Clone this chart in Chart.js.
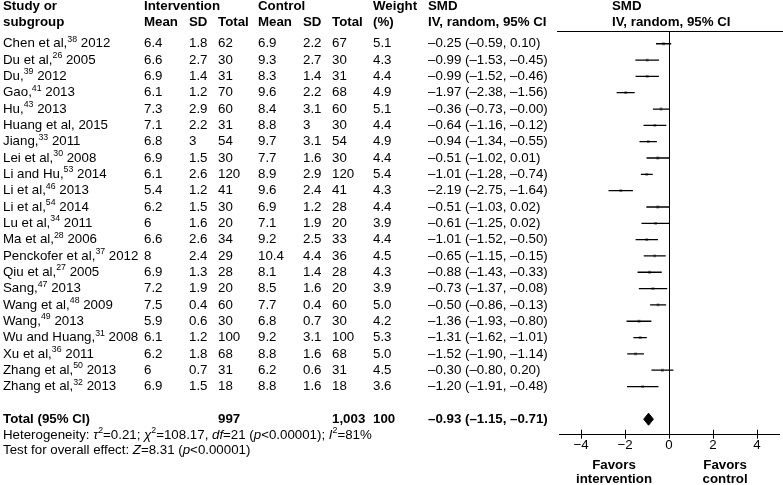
<!DOCTYPE html>
<html>
<head>
<meta charset="utf-8">
<script src="https://cdn.jsdelivr.net/npm/chart.js@4.4.1/dist/chart.umd.min.js"></script>
<style>
html, body { margin: 0; padding: 0; background: #fff; }
</style>
</head>
<body>
<canvas id="forest" width="783" height="485"></canvas>
<script>
// study rows
const studies = ['Chen et al,', 'Du et al,', 'Du,', 'Gao,', 'Hu,', 'Huang et al,', 'Jiang,', 'Lei et al,', 'Li and Hu,', 'Li et al,', 'Li et al,', 'Lu et al,', 'Ma et al,', 'Penckofer et al,', 'Qiu et al,', 'Sang,', 'Wang et al,', 'Wang,', 'Wu and Huang,', 'Xu et al,', 'Zhang et al,', 'Zhang et al,']
const refs = ['38', '26', '39', '41', '43', '', '33', '30', '53', '46', '54', '34', '28', '37', '27', '47', '48', '49', '31', '36', '50', '32']
const years = [2012, 2005, 2012, 2013, 2013, 2015, 2011, 2008, 2014, 2013, 2014, 2011, 2006, 2012, 2005, 2013, 2009, 2013, 2008, 2011, 2013, 2013]

const intMean = [6.4, 6.6, 6.9, 6.1, 7.3, 7.1, 6.8, 6.9, 6.1, 5.4, 6.2, 6, 6.6, 8, 6.9, 7.2, 7.5, 5.9, 6.1, 6.2, 6, 6.9]
const intSD = [1.8, 2.7, 1.4, 1.2, 2.9, 2.2, 3, 1.5, 2.6, 1.2, 1.5, 1.6, 2.6, 2.4, 1.3, 1.9, 0.4, 0.6, 1.2, 1.8, 0.7, 1.5]
const intN = [62, 30, 31, 70, 60, 31, 54, 30, 120, 41, 30, 20, 34, 29, 28, 20, 60, 30, 100, 68, 31, 18]
const ctlMean = [6.9, 9.3, 8.3, 9.6, 8.4, 8.8, 9.7, 7.7, 8.9, 9.6, 6.9, 7.1, 9.2, 10.4, 8.1, 8.5, 7.7, 6.8, 9.2, 8.8, 6.2, 8.8]
const ctlSD = [2.2, 2.7, 1.4, 2.2, 3.1, 3, 3.1, 1.6, 2.9, 2.4, 1.2, 1.9, 2.5, 4.4, 1.4, 1.6, 0.4, 0.7, 3.1, 1.6, 0.6, 1.6]
const ctlN = [67, 30, 31, 68, 60, 30, 54, 30, 120, 41, 28, 20, 33, 36, 28, 20, 60, 30, 100, 68, 31, 18]
const weights = [5.1, 4.3, 4.4, 4.9, 5.1, 4.4, 4.9, 4.4, 5.4, 4.3, 4.4, 3.9, 4.4, 4.5, 4.3, 3.9, 5.0, 4.2, 5.3, 5.0, 4.5, 3.6]
const smd = [-0.25, -0.99, -0.99, -1.97, -0.36, -0.64, -0.94, -0.51, -1.01, -2.19, -0.51, -0.61, -1.01, -0.65, -0.88, -0.73, -0.50, -1.36, -1.31, -1.52, -0.30, -1.20]
const ciLow = [-0.59, -1.53, -1.52, -2.38, -0.73, -1.16, -1.34, -1.02, -1.28, -2.75, -1.03, -1.25, -1.52, -1.15, -1.43, -1.37, -0.86, -1.93, -1.62, -1.90, -0.80, -1.91]
const ciHigh = [0.10, -0.45, -0.46, -1.56, -0.00, -0.12, -0.55, 0.01, -0.74, -1.64, 0.02, 0.02, -0.50, -0.15, -0.33, -0.08, -0.13, -0.80, -1.01, -1.14, 0.20, -0.48]

// pooled result
const totalInt = '997'
const totalCtl = '1,003'
const totalWeight = '100'
const totalSMD = -0.93
const totalLow = -1.15
const totalHigh = -0.71

const xTicks = [-4, -2, 0, 2, 4]

const FONT = '"Liberation Sans", Arial, sans-serif'
const FS = 13.3
const TOTAL_ROW = 23

function fmt(v) {
  const neg = v < 0 || Object.is(v, -0)
  return (neg ? '\u2013' : '') + Math.abs(v).toFixed(2)
}
function ciText(e, l, h) {
  return fmt(e) + ' (' + fmt(l) + ', ' + fmt(h) + ')'
}

const ciLines = []
studies.forEach((s, i) => {
  ciLines.push({ x: ciLow[i], y: i }, { x: ciHigh[i], y: i }, { x: NaN, y: null })
})
const pointData = smd.map((v, i) => ({ x: v, y: i }))
const diamond = [
  { x: totalLow, y: TOTAL_ROW },
  { x: totalSMD, y: TOTAL_ROW - 0.37 },
  { x: totalHigh, y: TOTAL_ROW },
  { x: totalSMD, y: TOTAL_ROW + 0.37 },
  { x: totalLow, y: TOTAL_ROW }
]

// draws a run of text pieces: {t, i (italic), b (bold), s (superscript)}
function rich(ctx, x, y, parts, size) {
  parts.forEach(p => {
    const sz = p.s ? size * 0.66 : size
    ctx.font = (p.i ? 'italic ' : '') + (p.b ? 'bold ' : '') + sz + 'px ' + FONT
    ctx.fillText(p.t, x, p.s ? y - size * 0.33 : y)
    x += ctx.measureText(p.t).width
  })
}

const tablePlugin = {
  id: 'table',
  afterDraw(chart) {
    const ctx = chart.ctx
    const xs = chart.scales.x
    const ys = chart.scales.y
    const area = chart.chartArea
    const row = i => ys.getPixelForValue(i)
    const col = { study: 3, im: 144, isd: 189, inn: 218, cm: 258, csd: 303, cn: 332, w: 373, smd: 428, plot: 612 }
    ctx.save()
    ctx.fillStyle = '#000'
    ctx.textBaseline = 'middle'
    ctx.textAlign = 'left'

    // headers
    const h1 = row(-2.3), h2 = row(-1.32)
    ctx.font = 'bold ' + FS + 'px ' + FONT
    ctx.fillText('Study or', col.study, h1)
    ctx.fillText('subgroup', col.study, h2)
    ctx.fillText('Intervention', col.im, h1)
    ctx.fillText('Control', col.cm, h1)
    ctx.fillText('Weight', col.w, h1)
    ctx.fillText('SMD', col.smd, h1)
    ctx.fillText('SMD', col.plot, h1)
    ctx.fillText('Mean', col.im, h2)
    ctx.fillText('SD', col.isd, h2)
    ctx.fillText('Total', col.inn, h2)
    ctx.fillText('Mean', col.cm, h2)
    ctx.fillText('SD', col.csd, h2)
    ctx.fillText('Total', col.cn, h2)
    ctx.fillText('(%)', col.w, h2)
    ctx.fillText('IV, random, 95% CI', col.smd, h2)
    ctx.fillText('IV, random, 95% CI', col.plot, h2)

    // study rows
    studies.forEach((s, i) => {
      const y = row(i)
      const parts = [{ t: s }]
      if (refs[i]) parts.push({ t: refs[i], s: true })
      parts.push({ t: ' ' + years[i] })
      rich(ctx, col.study, y, parts, FS)
      ctx.font = FS + 'px ' + FONT
      ctx.fillText(String(intMean[i]), col.im, y)
      ctx.fillText(String(intSD[i]), col.isd, y)
      ctx.fillText(String(intN[i]), col.inn, y)
      ctx.fillText(String(ctlMean[i]), col.cm, y)
      ctx.fillText(String(ctlSD[i]), col.csd, y)
      ctx.fillText(String(ctlN[i]), col.cn, y)
      ctx.fillText(weights[i].toFixed(1), col.w, y)
      ctx.fillText(ciText(smd[i], ciLow[i], ciHigh[i]), col.smd, y)
    })

    // total row
    const ty = row(TOTAL_ROW)
    ctx.font = 'bold ' + FS + 'px ' + FONT
    ctx.fillText('Total (95% CI)', col.study, ty)
    ctx.fillText(totalInt, col.inn, ty)
    ctx.fillText(totalCtl, col.cn, ty)
    ctx.fillText(totalWeight, col.w, ty)
    ctx.fillText(ciText(totalSMD, totalLow, totalHigh), col.smd, ty)

    rich(ctx, col.study, row(TOTAL_ROW + 0.97), [
      { t: 'Heterogeneity: ' }, { t: '\u03c4', i: true }, { t: '2', s: true }, { t: '=0.21; ' },
      { t: '\u03c7', i: true }, { t: '2', s: true }, { t: '=108.17, ' }, { t: 'df', i: true },
      { t: '=21 (' }, { t: 'p', i: true }, { t: '<0.00001); ' }, { t: 'I', i: true },
      { t: '2', s: true }, { t: '=81%' }
    ], FS)
    rich(ctx, col.study, row(TOTAL_ROW + 1.92), [
      { t: 'Test for overall effect: ' }, { t: 'Z', i: true }, { t: '=8.31 (' },
      { t: 'p', i: true }, { t: '<0.00001)' }
    ], FS)

    // header rule and zero line
    ctx.strokeStyle = '#000'
    ctx.lineWidth = 1
    ctx.beginPath()
    ctx.moveTo(area.left - 2, area.top + 0.5)
    ctx.lineTo(chart.width, area.top + 0.5)
    const zx = Math.round(xs.getPixelForValue(0)) + 0.5
    ctx.moveTo(zx, area.top)
    ctx.lineTo(zx, area.bottom)
    // tick marks above the axis
    xTicks.forEach(v => {
      const tx = Math.round(xs.getPixelForValue(v)) + 0.5
      ctx.moveTo(tx, area.bottom - 5)
      ctx.lineTo(tx, area.bottom)
    })
    ctx.stroke()

    // favours labels
    ctx.textAlign = 'center'
    ctx.font = 'bold ' + FS + 'px ' + FONT
    const fl = xs.getPixelForValue(-2.5), fr = xs.getPixelForValue(2.55)
    ctx.fillText('Favors', fl, 465)
    ctx.fillText('intervention', fl, 479)
    ctx.fillText('Favors', fr, 465)
    ctx.fillText('control', fr, 479)
    ctx.restore()
  }
}

const chart = new Chart(document.getElementById('forest'), {
  type: 'scatter',
  data: {
    datasets: [
      {
        label: 'CI',
        data: ciLines,
        showLine: true,
        spanGaps: false,
        borderColor: '#000',
        borderWidth: 1.3,
        pointRadius: 0,
        order: 0
      },
      {
        label: 'SMD',
        data: pointData,
        pointStyle: 'rect',
        pointRadius: 2,
        backgroundColor: '#8a8a8a',
        borderColor: '#8a8a8a',
        borderWidth: 0,
        order: 1
      },
      {
        type: 'line',
        label: 'Total',
        data: diamond,
        borderColor: '#000',
        backgroundColor: '#000',
        borderWidth: 1,
        pointRadius: 0,
        tension: 0,
        fill: 'shape',
        order: 0
      }
    ]
  },
  options: {
    responsive: false,
    devicePixelRatio: 1,
    animation: false,
    layout: {
      padding: { left: 559, right: 2, top: 31, bottom: 33 }
    },
    scales: {
      x: {
        type: 'linear',
        min: -5,
        max: 5,
        afterBuildTicks: s => { s.ticks = xTicks.map(v => ({ value: v })) },
        grid: { drawOnChartArea: false, drawTicks: true, tickLength: 4, color: '#000' },
        border: { color: '#000', width: 1 },
        ticks: {
          color: '#000',
          padding: 0,
          font: { family: FONT, size: FS, lineHeight: 1 },
          callback: v => v < 0 ? '\u2212' + Math.abs(v) : String(v)
        }
      },
      y: {
        type: 'linear',
        display: false,
        reverse: true,
        min: -0.78,
        max: 23.95
      }
    },
    plugins: {
      legend: { display: false },
      tooltip: { enabled: false }
    }
  },
  plugins: [tablePlugin]
})
</script>
</body>
</html>
